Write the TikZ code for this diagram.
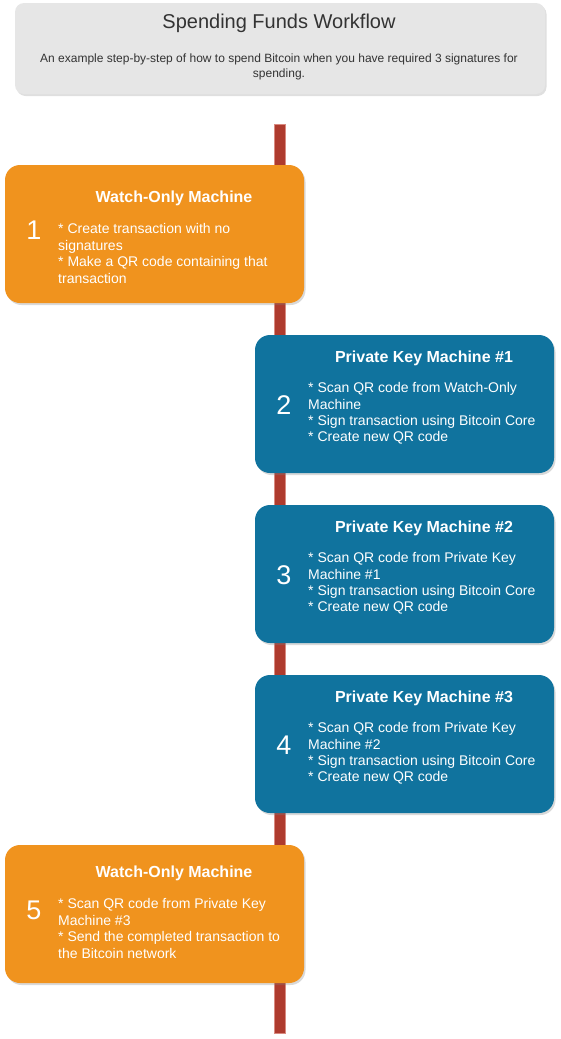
\documentclass[tikz,border=0pt]{standalone}
\usepackage{fontspec}
\setmainfont{Liberation Sans}
\usepackage{tikz}
\usetikzlibrary{positioning,calc,shadows}

\definecolor{wocolor}{HTML}{F0931E}
\definecolor{pkcolor}{HTML}{10739E}
\definecolor{barcolor}{HTML}{AE3B2E}
\definecolor{barline}{HTML}{D98A80}
\definecolor{headcolor}{HTML}{E6E6E6}
\definecolor{inkcolor}{HTML}{333333}

\begin{document}
\begin{tikzpicture}[
    x=1pt, y=-1pt,
    every node/.style={inner sep=0pt},
    head_box/.style={rectangle, fill=headcolor, rounded corners=9pt, minimum width=530pt, minimum height=91pt,
        drop shadow={shadow xshift=1.5pt, shadow yshift=-2pt, opacity=0.25}},
    step_box/.style={rectangle, rounded corners=15pt, minimum width=299pt, minimum height=138pt,
        drop shadow={shadow xshift=1.5pt, shadow yshift=-2pt, opacity=0.3}},
    wo_box/.style={step_box, fill=wocolor},
    pk_box/.style={step_box, fill=pkcolor},
    box_title/.style={text=white, font=\fontsize{16}{19}\selectfont\bfseries},
    box_num/.style={text=white, font=\fontsize{27}{30}\selectfont},
    box_text/.style={text=white, align=left, anchor=west, font=\fontsize{14}{16.4}\selectfont},
    bar/.style={fill=barcolor, draw=barline, line width=0.8pt}
]

% Header
\node[head_box] (head) at (280,48.5) {};
\node[text=inkcolor, font=\fontsize{20}{24}\selectfont] (title) at (279,23) {Spending Funds Workflow};
\node[text=inkcolor, align=center, font=\fontsize{12}{15}\selectfont] (subtitle) at (279,66.5)
    {An example step-by-step of how to spend Bitcoin when you have required 3 signatures for\\spending.};

% Timeline
\coordinate (bartop) at (274,124);
\coordinate (barbot) at (285,1033);
\draw[bar] (bartop) rectangle (barbot);

% Step 1
\node[wo_box] (m1) at (154.5,234) {};
\node[box_title] (m1title) at (174,198) {Watch-Only Machine};
\node[box_num] (m1num) at (34,230) {1};
\node[box_text] (m1text) at (58,253.5)
    {* Create transaction with no\\signatures\\* Make a QR code containing that\\transaction};

% Step 2
\node[pk_box] (m2) at (404.5,404) {};
\node[box_title] (m2title) at (424,358) {Private Key Machine \#1};
\node[box_num] (m2num) at (284,405) {2};
\node[box_text] (m2text) at (308,413.5)
    {* Scan QR code from Watch-Only\\Machine\\* Sign transaction using Bitcoin Core\\* Create new QR code};

% Step 3
\node[pk_box] (m3) at (404.5,574) {};
\node[box_title] (m3title) at (424,528) {Private Key Machine \#2};
\node[box_num] (m3num) at (284,575) {3};
\node[box_text] (m3text) at (308,583.5)
    {* Scan QR code from Private Key\\Machine \#1\\* Sign transaction using Bitcoin Core\\* Create new QR code};

% Step 4
\node[pk_box] (m4) at (404.5,744) {};
\node[box_title] (m4title) at (424,698) {Private Key Machine \#3};
\node[box_num] (m4num) at (284,745) {4};
\node[box_text] (m4text) at (308,753.5)
    {* Scan QR code from Private Key\\Machine \#2\\* Sign transaction using Bitcoin Core\\* Create new QR code};

% Step 5
\node[wo_box] (m5) at (154.5,914) {};
\node[box_title] (m5title) at (174,873) {Watch-Only Machine};
\node[box_num] (m5num) at (34,910) {5};
\node[box_text] (m5text) at (58,928.5)
    {* Scan QR code from Private Key\\Machine \#3\\* Send the completed transaction to\\the Bitcoin network};

\useasboundingbox (0,0) rectangle (560,1039);
\end{tikzpicture}
\end{document}
